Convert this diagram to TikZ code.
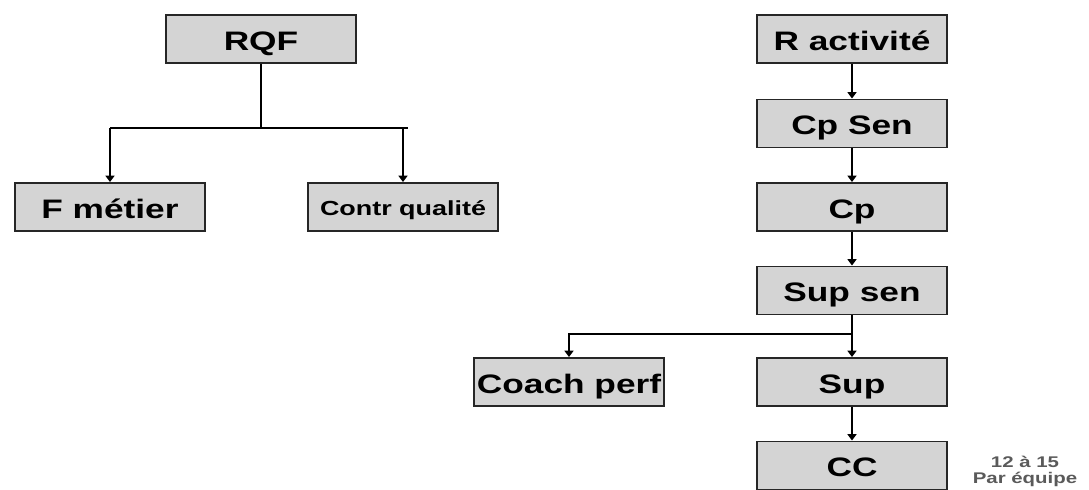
\documentclass[tikz,border=0pt]{standalone}
\usepackage{fontspec}
\usetikzlibrary{arrows.meta}
\newfontfamily\boxfont[FakeStretch=1.32]{Liberation Sans Bold}
\definecolor{boxgray}{HTML}{D4D4D4}
\definecolor{notegray}{HTML}{5A5A5A}

\begin{document}
\begin{tikzpicture}[x=0.025cm, y=-0.025cm, thick,
    main/.style = {draw=black!85, line width=1.4pt, fill=boxgray, rectangle,
                   minimum width=4.75cm, minimum height=1.2cm, inner sep=0pt,
                   text height=16.2pt, text depth=0pt,
                   font=\boxfont\fontsize{19}{22}\selectfont},
    small/.style = {text height=12.6pt, font=\boxfont\fontsize{14.5}{16}\selectfont},
    link/.style = {line width=1pt, -{Triangle[width=6.4pt,length=4.5pt]}}]
            \useasboundingbox (0,0) rectangle (1089,490);
            \node[main] (rqf)     at (261,39)    {RQF};
            \node[main] (fmetier) at (110,207)   {F métier};
            \node[main,small] (contr) at (403,207) {Contr qualité};
            \node[main] (ract)    at (852,39)    {R activité};
            \node[main] (cpsen)   at (852,123.5) {Cp Sen};
            \node[main] (cp)      at (852,207)   {Cp};
            \node[main] (supsen)  at (852,290.5) {Sup sen};
            \node[main] (coach)   at (569,382)   {Coach perf};
            \node[main] (sup)     at (852,382)   {Sup};
            \node[main] (cc)      at (852,465.5) {CC};
            \node[align=center, text=notegray, inner sep=0pt,
                  font=\boxfont\fontsize{11}{11.4}\selectfont]
                  (team) at (1025,471) {12 à 15\\Par équipe};
            \coordinate (hl) at (110,128);
            \coordinate (hr) at (408,128);
            \coordinate (br) at (852,334);
            \draw[line width=1pt] (rqf) -- (rqf |- hl);
            \draw[line width=1pt] (hl) -- (hr);
            \draw[link] (hl) -- (fmetier);
            \draw[link] (contr |- hl) -- (contr);
            \draw[link] (ract) -- (cpsen);
            \draw[link] (cpsen) -- (cp);
            \draw[link] (cp) -- (supsen);
            \draw[link] (supsen) -- (sup);
            \draw[link] (br) -| (coach);
            \draw[link] (sup) -- (cc);
        \end{tikzpicture}
\end{document}
